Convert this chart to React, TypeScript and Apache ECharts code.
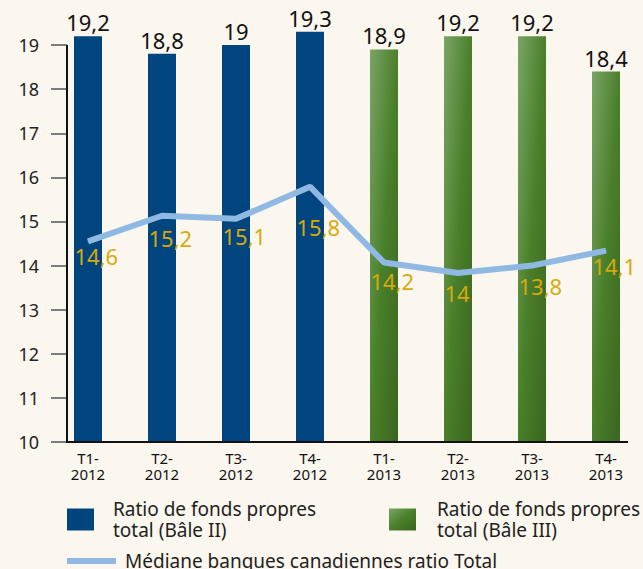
import React, { useEffect, useRef } from "react";
import * as echarts from "echarts";

const categories = ["T1-\n2012", "T2-\n2012", "T3-\n2012", "T4-\n2012", "T1-\n2013", "T2-\n2013", "T3-\n2013", "T4-\n2013"];
const baleII: (number | string)[] = [19.2, 18.8, 19, 19.3, "-", "-", "-", "-"];
const baleIII: (number | string)[] = ["-", "-", "-", "-", 18.9, 19.2, 19.2, 18.4];
const medianValues = [14.55, 15.13, 15.06, 15.79, 14.07, 13.83, 14.0, 14.34];
const medianLabels = ["14,6", "15,2", "15,1", "15,8", "14,2", "14", "13,8", "14,1"];
const yTicks = [10, 11, 12, 13, 14, 15, 16, 17, 18, 19];

const labelDy = [15, 23, 18, 41, 19, 20, 21, 16];

const FONT = "Noto Sans";
const fmt = (v: number) => String(v).replace(".", ",");

export default function App() {
  const ref = useRef<HTMLDivElement>(null);
  useEffect(() => {
    if (!ref.current) return;
    const chart = echarts.init(ref.current, null, { renderer: "svg" });
    const green = new echarts.graphic.LinearGradient(0, 0, 1, 1, [
      { offset: 0, color: "#7aa566" },
      { offset: 0.5, color: "#4a7f2a" },
      { offset: 1, color: "#3a6620" },
    ]);
    const barLabel = {
      show: true,
      position: "top",
      distance: 3,
      fontFamily: FONT,
      fontSize: 22,
      color: "#111",
      formatter: (p: any) => fmt(p.value),
    };
    chart.setOption({
      animation: false,
      backgroundColor: "#fbf7ee",
      textStyle: { fontFamily: FONT },
      grid: { left: 51, right: -1, top: 23, bottom: 127 },
      xAxis: {
        type: "category",
        data: categories,
        axisLine: { show: false },
        axisTick: { show: false },
        axisLabel: { fontFamily: FONT, fontSize: 15, lineHeight: 16, color: "#111", margin: 8 },
      },
      yAxis: {
        type: "value",
        min: yTicks[0],
        max: 19.5,
        interval: 1,
        offset: -16,
        splitLine: { show: false },
        axisLine: { show: false },
        axisTick: { show: true, length: 16, customValues: yTicks, lineStyle: { color: "#555", width: 1.5 } },
        axisLabel: {
          customValues: yTicks,
          fontFamily: FONT,
          fontSize: 18,
          color: "#222",
          margin: 28,
          verticalAlign: "middle",
          padding: [0, 0, 14, 0],
        },
      },
      legend: [
        {
          data: ["Ratio de fonds propres\ntotal (Bâle II)"],
          left: 67,
          top: 499,
          padding: 0,
          icon: "rect",
          itemWidth: 27,
          itemHeight: 22,
          textStyle: { fontFamily: FONT, fontSize: 19, lineHeight: 20.5, color: "#222", padding: [0, 0, 0, 14] },
        },
        {
          data: ["Ratio de fonds propres\ntotal (Bâle III)"],
          left: 389,
          top: 499,
          padding: 0,
          icon: "rect",
          itemWidth: 27,
          itemHeight: 22,
          textStyle: { fontFamily: FONT, fontSize: 19, lineHeight: 20.5, color: "#222", padding: [0, 0, 0, 16] },
        },
        {
          data: ["Médiane banques canadiennes ratio Total"],
          left: 67,
          top: 550,
          padding: 0,
          icon: "rect",
          itemWidth: 49,
          itemHeight: 6,
          textStyle: { fontFamily: FONT, fontSize: 19, lineHeight: 22, color: "#222", padding: [0, 0, 0, 4] },
        },
      ],
      graphic: [
        {
          type: "line",
          shape: { x1: 67, y1: 442, x2: 628, y2: 442 },
          style: { stroke: "#111", lineWidth: 2 },
          z: 100,
        },
        {
          type: "line",
          shape: { x1: 67, y1: 45, x2: 67, y2: 443 },
          style: { stroke: "#111", lineWidth: 2 },
          z: 100,
        },
      ],
      series: [
        {
          name: "Ratio de fonds propres\ntotal (Bâle II)",
          type: "bar",
          data: baleII,
          barWidth: 28,
          barGap: "-100%",
          itemStyle: { color: "#00457e" },
          label: barLabel,
        },
        {
          name: "Ratio de fonds propres\ntotal (Bâle III)",
          type: "bar",
          data: baleIII,
          barWidth: 28,
          barGap: "-100%",
          itemStyle: { color: green },
          label: barLabel,
        },
        {
          name: "Médiane banques canadiennes ratio Total",
          type: "line",
          data: medianValues.map((v, i) => ({
            value: v,
            label: {
              show: true,
              position: [-13, labelDy[i]],
              align: "left",
              verticalAlign: "middle",
              formatter: medianLabels[i],
            },
          })),
          symbol: "circle",
          symbolSize: 1,
          color: "#8fb9e2",
          lineStyle: { color: "#8fb9e2", width: 6 },
          itemStyle: { color: "#8fb9e2" },
          label: { fontFamily: FONT, fontSize: 22, color: "#d8a90a" },
          z: 5,
        },
      ],
    });
    return () => chart.dispose();
  }, []);
  return <div ref={ref} style={{ width: 643, height: 569, position: "absolute", left: 0, top: 0 }} />;
}
